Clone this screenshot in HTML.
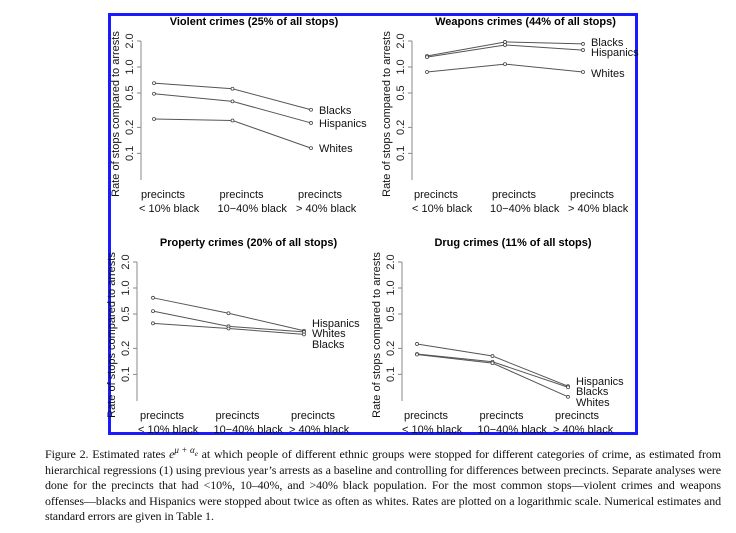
<!DOCTYPE html>
<html><head><meta charset="utf-8"><style>
body{margin:0;background:#fff;width:736px;height:533px;overflow:hidden;position:relative;font-family:"Liberation Sans",sans-serif}
#frame{position:absolute;left:108px;top:13px;width:524px;height:416px;border:3px solid #1a1aff}
#cap{position:absolute;left:45px;top:443px;width:676px;font-family:"Liberation Serif",serif;font-size:12px;letter-spacing:-0.1px;line-height:15.5px;text-align:justify;color:#111}
svg{position:absolute;left:0;top:0}
</style></head><body>
<div id="frame"></div>
<svg id="chart" width="736" height="533"></svg>
<div id="cap">Figure 2. Estimated rates <i>e</i><sup style="font-size:9px"><i>μ</i> + <i>α<sub>e</sub></i></sup> at which people of different ethnic groups were stopped for different categories of crime, as estimated from hierarchical regressions (1) using previous year’s arrests as a baseline and controlling for differences between precincts. Separate analyses were done for the precincts that had &lt;10%, 10–40%, and &gt;40% black population. For the most common stops—violent crimes and weapons offenses—blacks and Hispanics were stopped about twice as often as whites. Rates are plotted on a logarithmic scale. Numerical estimates and standard errors are given in Table 1.</div>
<script>
const categories=["< 10% black","10\u221240% black","> 40% black"];
const tickValues=[0.1,0.2,0.5,1.0,2.0];
const tickLabels=["0.1","0.2","0.5","1.0","2.0"];
const violentBlacks=[0.65,0.56,0.32];
const violentHispanics=[0.49,0.40,0.225];
const violentWhites=[0.25,0.24,0.115];
const weaponsBlacks=[1.34,1.95,1.85];
const weaponsHispanics=[1.3,1.8,1.57];
const weaponsWhites=[0.875,1.08,0.875];
const propertyHispanics=[0.77,0.51,0.32];
const propertyWhites=[0.54,0.36,0.31];
const propertyBlacks=[0.39,0.34,0.29];
const drugHispanics=[0.225,0.163,0.073];
const drugBlacks=[0.172,0.14,0.071];
const drugWhites=[0.17,0.135,0.055];
const panels=[
 {title:"Violent crimes (25% of all stops)",ax:141,y1:67,x0:154,dx:78.5,series:[["Blacks",violentBlacks],["Hispanics",violentHispanics],["Whites",violentWhites]],labelY:[110,123,148]},
 {title:"Weapons crimes (44% of all stops)",ax:412,y1:67,x0:427,dx:78,series:[["Blacks",weaponsBlacks],["Hispanics",weaponsHispanics],["Whites",weaponsWhites]],labelY:[42,52,73]},
 {title:"Property crimes (20% of all stops)",ax:137,y1:288,x0:153,dx:75.5,series:[["Hispanics",propertyHispanics],["Whites",propertyWhites],["Blacks",propertyBlacks]],labelY:[323,333,344]},
 {title:"Drug crimes (11% of all stops)",ax:402,y1:288,x0:417,dx:75.5,series:[["Hispanics",drugHispanics],["Blacks",drugBlacks],["Whites",drugWhites]],labelY:[381,391,402]}
];
const NS="http://www.w3.org/2000/svg";
const svg=document.getElementById('chart');
function mk(tag,attrs,parent){const e=document.createElementNS(NS,tag);for(const k in attrs)e.setAttribute(k,attrs[k]);(parent||svg).appendChild(e);return e;}
panels.forEach((p,pi)=>{
 const g=mk('g',{});
 
 
 const yS=v=>p.y1-26*Math.log2(v);
 const xS=i=>p.x0+i*p.dx;
 const t=mk('text',{x:(p.ax+p.x0+2*p.dx+40)/2+8,y:p.y1-42,'text-anchor':'middle','font-size':'11px','font-weight':'bold',fill:'#000'},g);
 t.textContent=p.title;
 
 
 const axis=mk('line',{x1:p.ax,x2:p.ax,y1:yS(2),y2:p.y1+113,stroke:'#888','stroke-width':1},g);
 
 
 tickValues.forEach((v,i)=>{
  mk('line',{x1:p.ax-4,x2:p.ax,y1:yS(v),y2:yS(v),stroke:'#888'},g);
  const tl=mk('text',{transform:`translate(${p.ax-8},${yS(v)}) rotate(-90)`,'text-anchor':'middle','font-size':'11px',fill:'#222'},g);
  tl.textContent=tickLabels[i];
  
  
 });
 const yt=mk('text',{transform:`translate(${p.ax-22},${p.y1+47}) rotate(-90)`,'text-anchor':'middle','font-size':'11px',fill:'#111'},g);
 yt.textContent="Rate of stops compared to arrests";
 
 
 categories.forEach((c,i)=>{
  const x=xS(i)-13;
  const a=mk('text',{x:x,y:p.y1+131,'font-size':'11px',fill:'#111'},g);
  a.textContent="precincts";
  
  
  const b=mk('text',{x:x-2,y:p.y1+145,'font-size':'11px',fill:'#111'},g);
  b.textContent=c;
  
  
 });
 p.series.forEach((s,si)=>{
  const pts=s[1].map((v,i)=>xS(i)+','+yS(v)).join(' ');
  const pl=mk('polyline',{points:pts,fill:'none',stroke:'#555','stroke-width':1},g);
  
  
  s[1].forEach((v,i)=>{
   const c=mk('circle',{cx:xS(i),cy:yS(v),r:1.5,fill:'#fff',stroke:'#444','stroke-width':0.8},g);
   
   
  });
  const lb=mk('text',{x:xS(2)+8,y:p.labelY[si]+4,'font-size':'11px',fill:'#111'},g);
  lb.textContent=s[0];
  
  
 });
});
</script>
</body></html>
